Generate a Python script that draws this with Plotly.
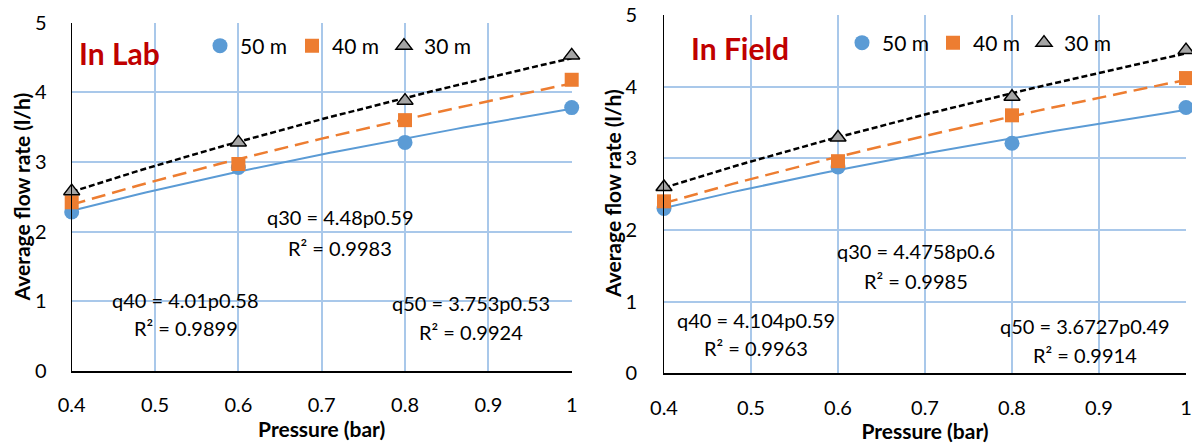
import numpy as np
import plotly.graph_objects as go

# ---------------- data ----------------
pressure = [0.4, 0.6, 0.8, 1.0]
series_names = ["50 m", "40 m", "30 m"]

lab_50 = [2.28, 2.92, 3.28, 3.78]
lab_40 = [2.42, 2.97, 3.60, 4.18]
lab_30 = [2.58, 3.28, 3.88, 4.53]

field_50 = [2.30, 2.88, 3.21, 3.71]
field_40 = [2.40, 2.96, 3.60, 4.12]
field_30 = [2.60, 3.29, 3.86, 4.51]

lab_eq = ["q50 = 3.753p0.53", "q40 = 4.01p0.58", "q30 = 4.48p0.59"]
lab_r2 = ["R² = 0.9924", "R² = 0.9899", "R² = 0.9983"]
field_eq = ["q50 = 3.6727p0.49", "q40 = 4.104p0.59", "q30 = 4.4758p0.6"]
field_r2 = ["R² = 0.9914", "R² = 0.9963", "R² = 0.9985"]

x_ticks = [0.4, 0.5, 0.6, 0.7, 0.8, 0.9, 1.0]
x_tick_text = ["0.4", "0.5", "0.6", "0.7", "0.8", "0.9", "1"]
y_ticks = [0, 1, 2, 3, 4, 5]

# ---------------- styles ----------------
W, H = 1192, 443
FONT = "Lato"
BLUE = "#5B9BD5"
ORANGE = "#ED7D31"
GRAY = "#A5A5A5"
GRID = "#A9C8EA"

marker_styles = [
    dict(symbol="circle", size=15, color=BLUE, line=dict(width=0)),
    dict(symbol="square", size=14, color=ORANGE, line=dict(width=0)),
    dict(symbol="triangle-up", size=14, color=GRAY, line=dict(width=1.5, color="black")),
]
line_styles = [
    dict(color=BLUE, width=2, dash="solid"),
    dict(color=ORANGE, width=2.5, dash="14px,7px"),
    dict(color="black", width=2.5, dash="6px,3px"),
]

fig = go.Figure()


def add_panel(values, xa, ya, legend_name):
    p_dense = np.linspace(pressure[0], pressure[-1], 61)
    for i, vals in enumerate(values):
        b, ln_a = np.polyfit(np.log(pressure), np.log(vals), 1)
        fig.add_trace(go.Scatter(
            x=p_dense, y=np.exp(ln_a) * p_dense ** b, mode="lines",
            line=line_styles[i], xaxis=xa, yaxis=ya, showlegend=False,
            hoverinfo="skip", cliponaxis=False))
    for i, vals in enumerate(values):
        fig.add_trace(go.Scatter(
            x=pressure, y=vals, mode="markers", name=series_names[i],
            marker=marker_styles[i], xaxis=xa, yaxis=ya,
            legend=legend_name, cliponaxis=False))


add_panel([lab_50, lab_40, lab_30], "x", "y", "legend")
add_panel([field_50, field_40, field_30], "x2", "y2", "legend2")


def px_x(v):
    return v / W


def px_y(v):
    return 1 - v / H


axis_common = dict(
    showgrid=True, gridcolor=GRID, gridwidth=1.5,
    zeroline=False, showline=True, linecolor="black",
    ticks="", tickfont=dict(family=FONT, size=20, color="black"),
    automargin=False,
)

x_dom_lab = [px_x(71.7), px_x(571.7)]
x_dom_field = [px_x(664), px_x(1186)]
y_dom_lab = [px_y(370.7), px_y(22.7)]
y_dom_field = [px_y(373.3), px_y(15)]

xtitle = dict(text="<b>Pressure (bar)</b>", font=dict(family=FONT, size=21, color="black"), standoff=0)

fig.update_layout(
    width=W, height=H,
    margin=dict(l=0, r=0, t=0, b=0),
    paper_bgcolor="white", plot_bgcolor="white",
    font=dict(family=FONT, size=20, color="black"),
    xaxis=dict(axis_common, domain=x_dom_lab, range=[0.4, 1.0], tickvals=x_ticks,
               ticktext=x_tick_text, anchor="y", linewidth=1.5, ticklabelstandoff=16,
               title=xtitle),
    yaxis=dict(axis_common, domain=y_dom_lab, range=[0, 5], tickvals=y_ticks,
               anchor="x", linewidth=1, ticklabelstandoff=20),
    xaxis2=dict(axis_common, domain=x_dom_field, range=[0.4, 1.0], tickvals=x_ticks,
                ticktext=x_tick_text, anchor="y2", linewidth=1.5, ticklabelstandoff=16,
                title=xtitle),
    yaxis2=dict(axis_common, domain=y_dom_field, range=[0, 5], tickvals=y_ticks,
                anchor="x2", linewidth=1, ticklabelstandoff=22),
    legend=dict(orientation="h", x=px_x(200), y=px_y(46), xanchor="left", yanchor="middle",
                font=dict(family=FONT, size=21, color="black"), bgcolor="rgba(0,0,0,0)",
                entrywidth=47, entrywidthmode="pixels",
                itemclick=False, itemdoubleclick=False),
    legend2=dict(orientation="h", x=px_x(842), y=px_y(43), xanchor="left", yanchor="middle",
                 font=dict(family=FONT, size=21, color="black"), bgcolor="rgba(0,0,0,0)",
                 entrywidth=46, entrywidthmode="pixels",
                 itemclick=False, itemdoubleclick=False),
)

# y-axis titles
for xc, yc in [(21.7, 196.7), (613, 194)]:
    fig.add_annotation(x=px_x(xc), y=px_y(yc), xref="paper", yref="paper",
                       text="<b>Average flow rate (l/h)</b>", textangle=-90, showarrow=False,
                       xanchor="center", yanchor="middle",
                       font=dict(family=FONT, size=21, color="black"))

ann_font = dict(family=FONT, size=20, color="black")
# equation labels (data coordinates): order 50, 40, 30
lab_pos = [(0.879, 0.97, 0.556), (0.537, 1.02, 0.61), (0.722, 2.21, 1.76)]
field_pos = [(0.884, 0.66, 0.255), (0.506, 0.74, 0.35), (0.690, 1.70, 1.29)]

for (xa, ya, eqs, r2s, poss) in [("x", "y", lab_eq, lab_r2, lab_pos),
                                  ("x2", "y2", field_eq, field_r2, field_pos)]:
    for eq, r2, (xc, ye, yr) in zip(eqs, r2s, poss):
        fig.add_annotation(x=xc, y=ye, xref=xa, yref=ya, text=eq, showarrow=False,
                           font=ann_font, xanchor="center", yanchor="middle")
        fig.add_annotation(x=xc, y=yr, xref=xa, yref=ya, text=r2, showarrow=False,
                           font=ann_font, xanchor="center", yanchor="middle")

fig.add_annotation(x=px_x(77), y=px_y(53.5), xref="paper", yref="paper",
                   text="<b>In Lab</b>", showarrow=False, xanchor="left", yanchor="middle",
                   font=dict(family=FONT, size=30, color="#C00000"))
fig.add_annotation(x=px_x(689), y=px_y(48), xref="paper", yref="paper",
                   text="<b>In Field</b>", showarrow=False, xanchor="left", yanchor="middle",
                   font=dict(family=FONT, size=30, color="#C00000"))

fig.write_html("out.html", config={"displayModeBar": False},
               post_script="document.body.style.margin='0';document.body.style.overflow='hidden';")
